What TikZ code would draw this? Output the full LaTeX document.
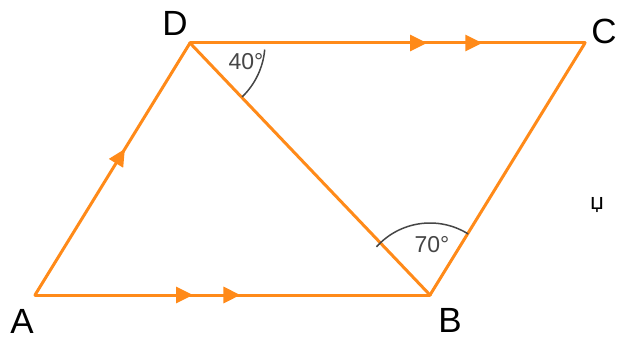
\documentclass[tikz,border=0pt]{standalone}
\usepackage{fontspec}
\setmainfont{Liberation Sans}
\newfontfamily\dejavu{DejaVu Sans}
\usetikzlibrary{decorations.markings,arrows.meta}
\definecolor{edgeorange}{RGB}{255,138,25}
\definecolor{arcgray}{RGB}{70,70,70}
\tikzset{
  side/.style={draw=edgeorange,line width=3pt,line cap=round,line join=round},
  vlabel/.style={font=\fontsize{35}{35}\selectfont,text=black,inner sep=0pt},
  alabel/.style={font=\fontsize{23}{23}\selectfont,text=arcgray,inner sep=0pt},
  anglearc/.style={draw=arcgray,line width=1.5pt},
  onearrow/.style={postaction={decorate,decoration={markings,
      mark=at position #1 with {\arrow[edgeorange]{Triangle[length=17pt,width=16pt]}}}}},
}
\begin{document}
\begin{tikzpicture}[x=1pt,y=-1pt]
\useasboundingbox (0,0) rectangle (618,339);
\coordinate (A) at (35,295);
\coordinate (B) at (430,295);
\coordinate (C) at (585,43);
\coordinate (D) at (190,43);
% sides
\draw[side,onearrow=0.58] (A) -- (D);
\draw[side,onearrow=0.40,onearrow=0.52] (A) -- (B);
\draw[side,onearrow=0.60,onearrow=0.74] (D) -- (C);
\draw[side] (B) -- (C);
\draw[side] (D) -- (B);
% angle arcs
\draw[anglearc] ([shift={(5:75)}]D) arc[start angle=5,end angle=46,radius=75];
\draw[anglearc] ([shift={(222:72)}]B) arc[start angle=222,end angle=302,radius=72];
% labels
\node[vlabel] (lD) at (175,23) {D};
\node[vlabel] (lC) at (604,31) {C};
\node[vlabel] (lA) at (22,321) {A};
\node[vlabel] (lB) at (450,320) {B};
\node[alabel] (a40) at (246,62) {40°};
\node[alabel] (a70) at (432,245) {70°};
\node[font=\dejavu\fontsize{22}{22}\selectfont,text=black,inner sep=0pt] (mark) at (597,205) {џ};
\end{tikzpicture}
\end{document}
